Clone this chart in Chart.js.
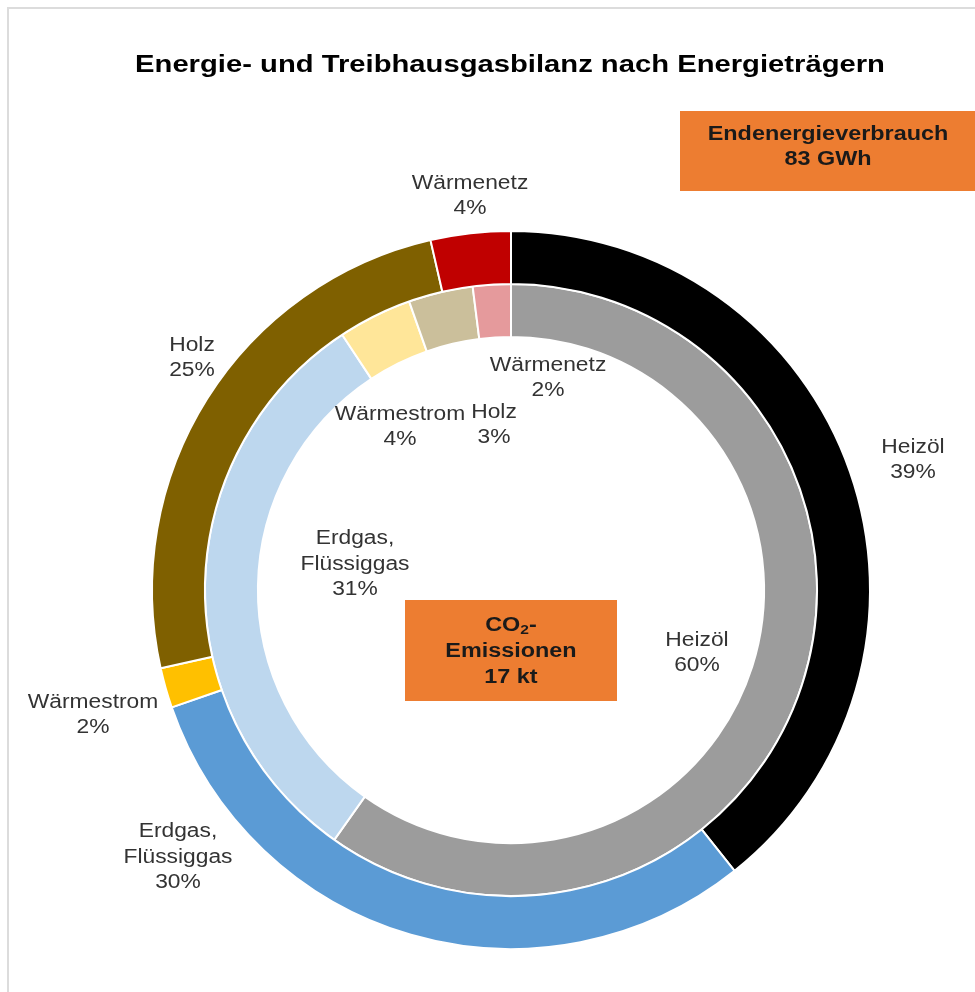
<!DOCTYPE html>
<html lang="de">
<head>
  <meta charset="UTF-8">
  <title>Energie- und Treibhausgasbilanz nach Energieträgern</title>
  <script src="https://cdn.jsdelivr.net/npm/chart.js"></script>
  <style>
    body { margin: 0; background: #fff; font-family: "Liberation Sans", Arial, sans-serif; }
    #wrap { position: relative; width: 975px; height: 992px; overflow: hidden; }
    #frame { position: absolute; left: 7px; top: 7px; width: 1000px; height: 1000px; border: 2px solid #dcdcdc; border-right: none; border-bottom: none; }
    canvas { position: absolute; left: 0; top: 0; }
    .title { position: absolute; left: 0; width: 1020px; top: 51px; text-align: center; font-weight: bold; font-size: 23px; color: #000; transform: scaleX(1.27); transform-origin: 510px 0; white-space: nowrap; }
    .box { position: absolute; background: #ed7d31; color: #1a1a1a; font-weight: bold; font-size: 19.5px; text-align: center; display: flex; flex-direction: column; justify-content: center; line-height: 25px; box-sizing: border-box; }
    .box span { display: block; transform: scaleX(1.2); white-space: nowrap; }
    #boxEnergie { left: 680px; top: 111px; width: 296px; height: 80px; padding-bottom: 11px; }
    #boxCO2 { left: 405px; top: 600px; width: 212px; height: 101px; line-height: 26px; padding-bottom: 2px; }
    sub { font-size: 13px; line-height: 0; vertical-align: -3px; }
  </style>
</head>
<body>
<div id="wrap">
  <div id="frame"></div>
  <canvas id="chart" width="975" height="992"></canvas>
  <div class="title">Energie- und Treibhausgasbilanz nach Energieträgern</div>
  <div class="box" id="boxEnergie"><span>Endenergieverbrauch</span><span>83 GWh</span></div>
  <div class="box" id="boxCO2"><span>CO<sub>2</sub>-</span><span>Emissionen</span><span>17 kt</span></div>
</div>

<script>
  // Energieträger, im Uhrzeigersinn ab 12 Uhr
  const traeger = ['Heizöl', 'Erdgas, Flüssiggas', 'Wärmestrom', 'Holz', 'Wärmenetz'];
  // Anteile in % (Beschriftung gerundet)
  const endenergie = [39.3, 30.4, 1.8, 24.9, 3.6];
  const co2 = [59.8, 30.9, 3.9, 3.4, 2.0];

  const farbenAussen = ['#000000', '#5b9bd5', '#ffc000', '#7f6000', '#c00000'];
  const farbenInnen = ['#9c9c9c', '#bdd7ee', '#ffe699', '#cbbf9b', '#e59a9c'];

  // Label-Lage relativ zur Mitte (dx, dy), Aussen- und Innenring
  const labelAussen = [[402, -130], [-333, 267], [-418, 125], [-319, -232], [-41, -394]];
  const labelInnen = [[186, 63], [-156, -26], [-111, -163], [-17, -165], [37, -212]];

  const labelPlugin = {
    id: 'ringLabels',
    afterDatasetsDraw(chart) {
      const ctx = chart.ctx;
      ctx.save();
      ctx.font = '20px "Liberation Sans", Arial, sans-serif';
      ctx.fillStyle = '#333';
      ctx.textAlign = 'center';
      ctx.textBaseline = 'middle';
      [labelAussen, labelInnen].forEach((offs, di) => {
        const meta = chart.getDatasetMeta(di);
        const werte = chart.data.datasets[di].data;
        meta.data.forEach((arc, i) => {
          const lines = traeger[i].split(', ');
          if (lines.length > 1) lines[0] += ',';
          lines.push(Math.round(werte[i]) + '%');
          const cx = arc.x + offs[i][0];
          const cy = arc.y + offs[i][1];
          const lh = 25.5;
          lines.forEach((t, k) => {
            const y = cy + (k - (lines.length - 1) / 2) * lh;
            ctx.save();
            ctx.translate(cx, y);
            ctx.scale(1.14, 1);
            ctx.fillText(t, 0, 0);
            ctx.restore();
          });
        });
      });
      ctx.restore();
    }
  };

  new Chart(document.getElementById('chart'), {
    type: 'doughnut',
    data: {
      labels: traeger,
      datasets: [
        { label: 'Endenergieverbrauch', data: endenergie, backgroundColor: farbenAussen, borderColor: '#fff', borderWidth: 2 },
        { label: 'CO2-Emissionen', data: co2, backgroundColor: farbenInnen, borderColor: '#fff', borderWidth: 2 }
      ]
    },
    options: {
      responsive: false,
      animation: false,
      cutout: '70.5%',
      layout: { padding: { left: 151, right: 104, top: 230, bottom: 42 } },
      plugins: {
        legend: { display: false },
        tooltip: { enabled: false }
      }
    },
    plugins: [labelPlugin]
  });
</script>
</body>
</html>
